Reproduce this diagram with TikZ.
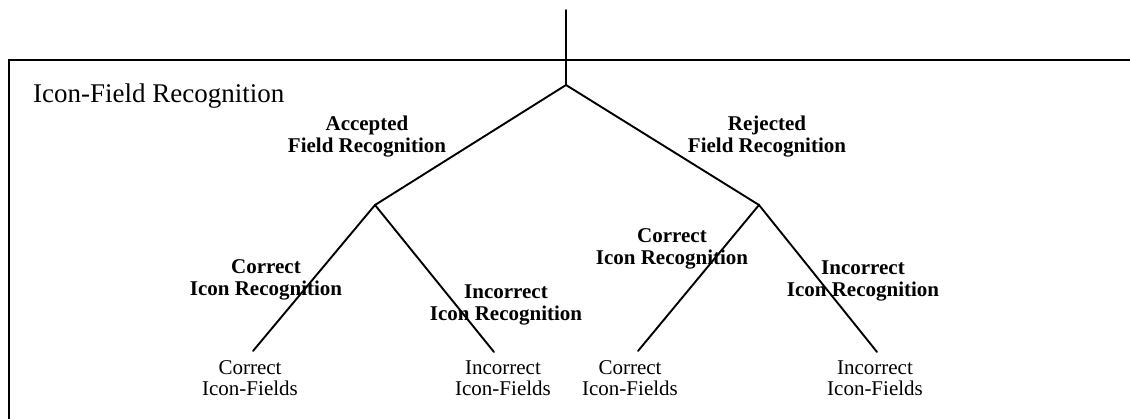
\documentclass[tikz,border=0pt]{standalone}
\usepackage{fontspec}
\setmainfont{Liberation Serif}
\usetikzlibrary{positioning}
\tikzset{
  branch/.style={line width=1.9pt, line cap=round},
  frame/.style ={line width=1.5pt},
  blab/.style  ={font=\bfseries\fontsize{21}{22}\selectfont, align=center, inner sep=0pt},
  leaf/.style  ={font=\fontsize{21}{21}\selectfont, align=center, inner sep=0pt},
  ttl/.style   ={font=\fontsize{27}{30}\selectfont, anchor=west, inner sep=0pt},
}

\begin{document}
\begin{tikzpicture}[x=1pt, y=-1pt]
  \useasboundingbox (0,0) rectangle (1130,419);
  \clip (0,0) rectangle (1130,419);
  % frame, open to the right and bottom
  \draw[frame] (9,440) |- (1150,60);
  \node[ttl] (T) at (33,96) {Icon-Field Recognition};
  % tree points
  \coordinate (top) at (566,10);
  \coordinate (R)  at (566,85);
  \coordinate (A)  at (375,205);
  \coordinate (J)  at (759,205);
  \coordinate (ACe) at (253,351);
  \coordinate (AIe) at (494,352);
  \coordinate (JCe) at (638,351);
  \coordinate (JIe) at (877,352);
  \draw[branch] (top) -- (R);
  \draw[branch] (A) -- (R) -- (J);
  \draw[branch] (ACe) -- (A) -- (AIe);
  \draw[branch] (JCe) -- (J) -- (JIe);
  % branch labels
  \node[blab] (accL) at (367,137) {Accepted\\Field Recognition};
  \node[blab] (rejL) at (767,137) {Rejected\\Field Recognition};
  \node[blab] (acL)  at (266,280) {Correct\\Icon Recognition};
  \node[blab] (aiL)  at (506,305) {Incorrect\\Icon Recognition};
  \node[blab] (jcL)  at (672,249) {Correct\\Icon Recognition};
  \node[blab] (jiL)  at (863,281) {Incorrect\\Icon Recognition};
  % leaves
  \node[leaf] (AC) at (250,378) {Correct\\Icon-Fields};
  \node[leaf] (AI) at (503,378) {Incorrect\\Icon-Fields};
  \node[leaf] (JC) at (630,378) {Correct\\Icon-Fields};
  \node[leaf] (JI) at (875,378) {Incorrect\\Icon-Fields};
\end{tikzpicture}
\end{document}
